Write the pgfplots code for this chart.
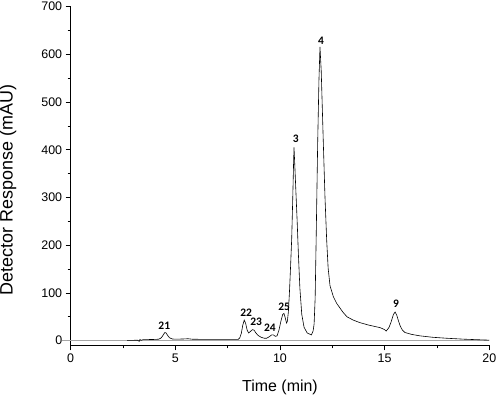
\documentclass[border=0pt]{standalone}
\usepackage{fontspec}
\setmainfont{Liberation Sans}
\newfontfamily\lblfont{Carlito}
\usepackage{pgfplots}
\pgfplotsset{compat=1.18}
\begin{document}
\begin{tikzpicture}
\begin{axis}[
  scale only axis, width=418.6bp, height=338.7bp,
  xmin=0, xmax=20, ymin=-10, ymax=700,
  axis lines=left,
  axis line style={-, line width=0.9pt},
  xtick={0,5,10,15,20}, ytick={0,100,...,700},
  minor tick num=1,
  tick align=outside, major tick length=5bp, minor tick length=3bp,
  tick style={black, line width=0.8pt},
  tick label style={font=\fontsize{12.5}{14}\selectfont},
  /pgf/number format/assume math mode=true,
  xlabel={Time (min)}, ylabel={Detector Response (mAU)},
  xlabel style={font=\fontsize{16}{19}\selectfont, at={(axis description cs:0.5,-0.123)}, anchor=center},
  ylabel style={font=\fontsize{18}{21}\selectfont, at={(axis description cs:-0.1498,0.459)}, anchor=center},
  clip=false,
]
\coordinate (O) at (rel axis cs:0,0);
\addplot[gray!70, line width=0.6pt] coordinates {(-0.4,0) (20,0)};
\addplot[black, line width=0.6pt] coordinates {
(2.7,0.5) (3.2,0.8) (3.27,-1.5) (3.31,2.5) (3.36,0.5) (3.45,2) (4.0,2.5) (4.2,3)
(4.3,5) (4.38,9) (4.45,14) (4.5,17) (4.56,16) (4.63,11) (4.72,6) (4.85,3.5)
(5.0,3) (5.4,3.5) (5.6,4) (5.8,3) (6.5,2.5) (7.5,2.5) (8.0,2.5)
(8.08,6) (8.15,15) (8.22,32) (8.29,43) (8.36,36) (8.43,22) (8.5,16)
(8.58,19) (8.68,23) (8.76,22) (8.85,16) (8.95,11) (9.1,7) (9.25,5) (9.36,5)
(9.48,8) (9.6,12) (9.68,12) (9.78,9) (9.86,10) (9.95,22) (10.05,42) (10.13,55)
(10.19,57) (10.25,48) (10.31,37) (10.35,40) (10.40,60) (10.45,100) (10.50,150)
(10.56,215) (10.61,300) (10.65,375) (10.67,405) (10.71,365) (10.76,312)
(10.82,250) (10.88,180) (10.95,110) (11.04,55) (11.15,28) (11.3,16) (11.5,12)
(11.58,20) (11.63,35) (11.68,90) (11.73,220) (11.80,414) (11.86,545) (11.91,616)
(11.97,565) (12.07,414) (12.15,300) (12.23,211) (12.3,152) (12.39,115) (12.55,92)
(12.71,78) (13.0,60) (13.2,50) (13.5,43) (13.8,38) (14.2,33) (14.5,30) (14.8,27)
(15.0,23) (15.07,20) (15.2,27) (15.3,38) (15.42,55) (15.5,60) (15.58,53)
(15.67,40) (15.75,30) (15.85,22) (15.97,17) (16.3,13) (16.69,10) (17.3,7)
(17.96,5) (18.8,3) (20,1)
};
\begin{scope}[every node/.style={font=\lblfont\bfseries\fontsize{11.5}{13}\selectfont, inner sep=0pt}]
\node at (axis cs:4.47,31) {21};
\node at (axis cs:8.38,59) {22};
\node at (axis cs:8.86,39) {23};
\node at (axis cs:9.52,28) {24};
\node at (axis cs:10.2,70) {25};
\node at (axis cs:10.75,424) {3};
\node at (axis cs:11.96,629) {4};
\node at (axis cs:15.54,77) {9};
\end{scope}
\end{axis}
\pgfresetboundingbox
\path[use as bounding box] ([shift={(-70.7bp,-52.6bp)}]O) rectangle ++(499bp,398bp);
\end{tikzpicture}
\end{document}
